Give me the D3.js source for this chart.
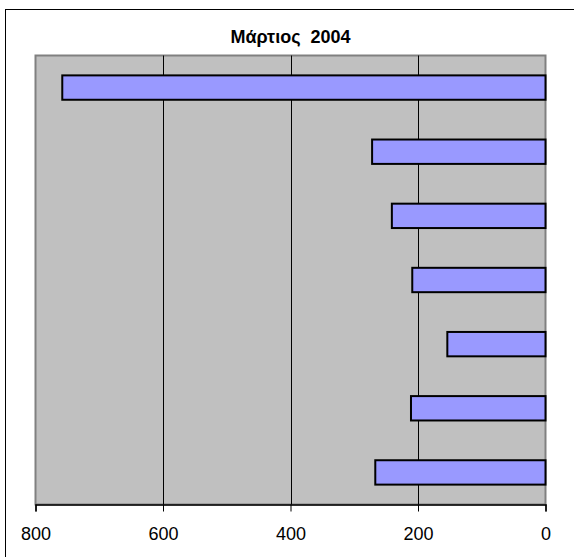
<!DOCTYPE html>
<meta charset="utf-8">
<script src="https://d3js.org/d3.v7.min.js"></script>
<style>
    body { margin: 0; background: #fff; }
    .title { font-family: 'Liberation Sans', Arial, sans-serif; font-weight: bold; font-size: 18px; text-anchor: middle; white-space: pre; }
    .tick text { font-family: 'Liberation Sans', Arial, sans-serif; font-size: 18px; fill: #000; }
</style>
<div id="chart"></div>
<script>
    // data, top bar first
    const categories = ["1", "2", "3", "4", "5", "6", "7"];
    const values = [758, 272, 241, 209, 154, 211, 267];
    const xTicks = [800, 600, 400, 200, 0];
    const title = "Μάρτιος  2004";

    const W = 574, H = 557;
    const plot = {left: 35.5, right: 545.5, top: 55.5, bottom: 504.5};

    const svg = d3.select("#chart").append("svg")
        .attr("width", W)
        .attr("height", H);

    // outer chart frame (runs past the right and bottom edges)
    svg.append("rect")
        .attr("x", 5.5).attr("y", 9.5)
        .attr("width", W + 10).attr("height", H + 10)
        .attr("fill", "#fff")
        .attr("stroke", "#000")
        .attr("stroke-width", 1);

    svg.append("text")
        .attr("class", "title")
        .attr("xml:space", "preserve")
        .attr("x", (plot.left + plot.right) / 2)
        .attr("y", 43)
        .text(title);

    // reversed value axis: 800 on the left, 0 on the right
    const x = d3.scaleLinear()
        .domain([800, 0])
        .range([plot.left, plot.right]);

    const y = d3.scaleBand()
        .domain(categories)
        .range([plot.top, plot.bottom])
        .paddingInner(0.62)
        .paddingOuter(0.31);

    // plot area
    svg.append("rect")
        .attr("x", plot.left).attr("y", plot.top)
        .attr("width", plot.right - plot.left)
        .attr("height", plot.bottom - plot.top)
        .attr("fill", "#c0c0c0")
        .attr("stroke", "#808080")
        .attr("stroke-width", 2);

    // gridlines
    svg.append("g")
        .selectAll("line")
        .data(xTicks.filter(d => d !== 0 && d !== 800))
        .enter().append("line")
        .attr("x1", d => Math.round(x(d)) + 0.5)
        .attr("x2", d => Math.round(x(d)) + 0.5)
        .attr("y1", plot.top)
        .attr("y2", plot.bottom)
        .attr("stroke", "#000")
        .attr("stroke-width", 1);

    // bars
    svg.append("g")
        .selectAll("rect")
        .data(values)
        .enter().append("rect")
        .attr("x", d => x(d))
        .attr("y", (d, i) => y(categories[i]))
        .attr("width", d => x(0) - x(d))
        .attr("height", y.bandwidth())
        .attr("fill", "#9999ff")
        .attr("stroke", "#000")
        .attr("stroke-width", 2);

    // bottom axis
    const axis = svg.append("g")
        .attr("transform", "translate(0," + plot.bottom + ")")
        .call(d3.axisBottom(x).tickValues(xTicks).tickSize(7).tickPadding(16).tickFormat(d3.format("d")));
    axis.select(".domain").attr("stroke", "#000").attr("stroke-width", 1.5);
    axis.selectAll(".tick line").attr("stroke", "#000");
</script>
